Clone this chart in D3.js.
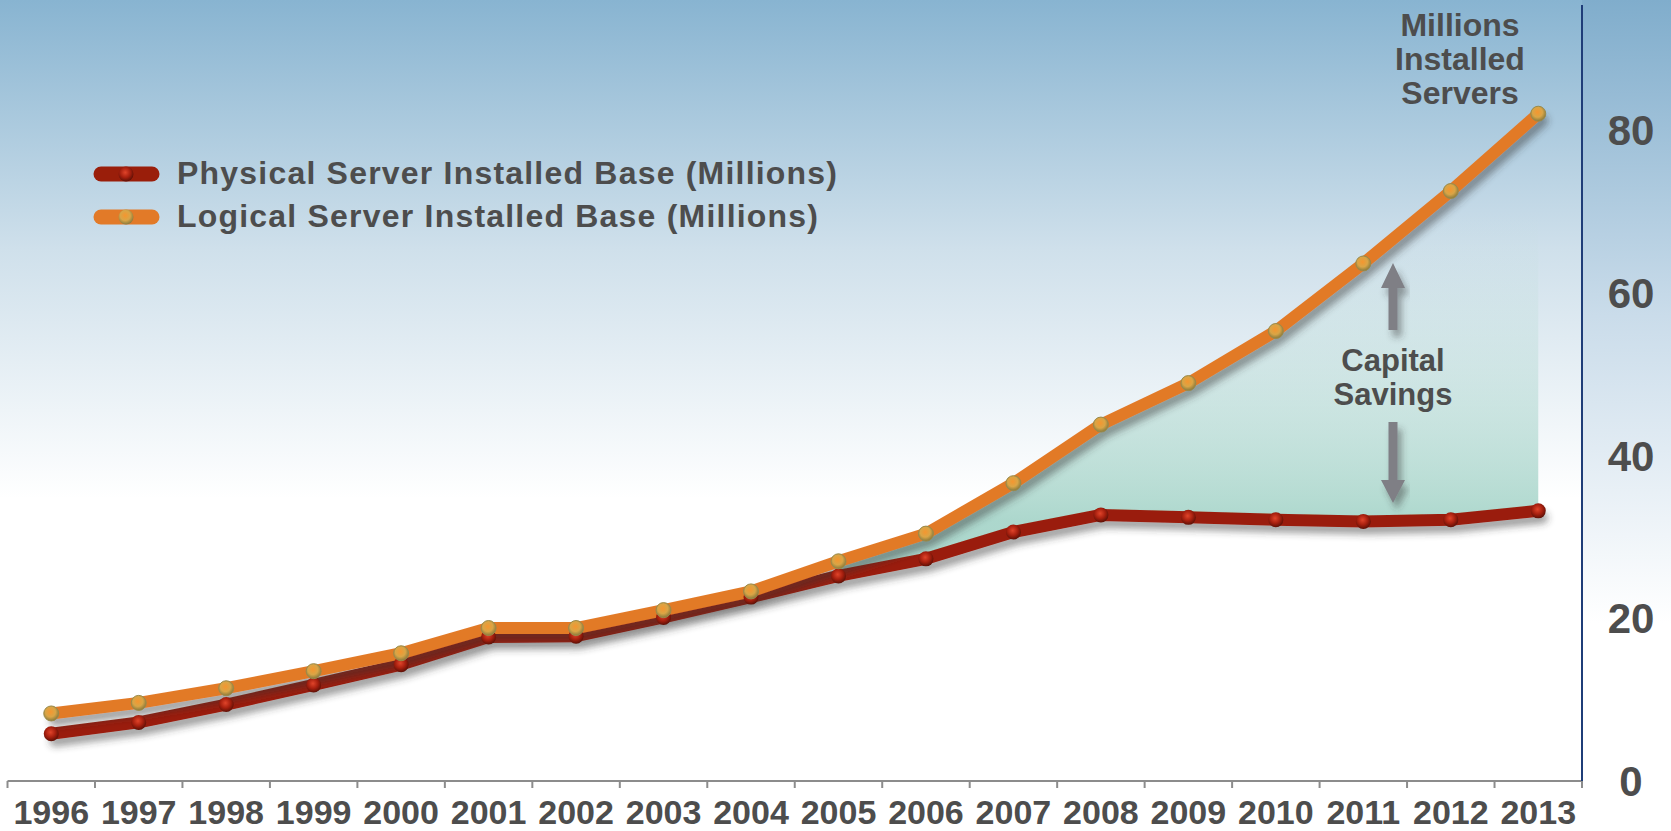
<!DOCTYPE html>
<html>
<head>
<meta charset="utf-8">
<script src="https://cdn.jsdelivr.net/npm/d3@7"></script>
<style>
  body { margin: 0; padding: 0; overflow: hidden; }
  svg { display: block; }
  text { font-family: "Liberation Sans", Arial, sans-serif; font-weight: bold; fill: #4d4d4d; }
</style>
</head>
<body>
<div id="chart"></div>
<script>
// chart data
var years = ["1996","1997","1998","1999","2000","2001","2002","2003","2004",
             "2005","2006","2007","2008","2009","2010","2011","2012","2013"];
var physical = [5.8, 7.2, 9.4, 11.8, 14.3, 17.7, 17.8, 20.1, 22.6,
                25.2, 27.3, 30.6, 32.7, 32.4, 32.1, 31.9, 32.1, 33.2];
var logical = [8.3, 9.6, 11.4, 13.5, 15.7, 18.8, 18.8, 21.0, 23.3,
               27.0, 30.4, 36.6, 43.8, 48.9, 55.3, 63.6, 72.5, 82.0];
var yTicks = [0, 20, 40, 60, 80];
var seriesNames = ["Physical Server Installed Base (Millions)", "Logical Server Installed Base (Millions)"];
var unitLines = ["Millions", "Installed", "Servers"];
var savingsLines = ["Capital", "Savings"];
var savingsFrom = "2005";

var svgWidth = 1671;
var svgHeight = 831;

var svg = d3.select("#chart")
  .append("svg")
  .attr("width", svgWidth)
  .attr("height", svgHeight);

var defs = svg.append("defs");

// background gradients
var bg = defs.append("linearGradient").attr("id", "bg")
  .attr("x1", 0).attr("y1", 0).attr("x2", 0).attr("y2", 1);
bg.append("stop").attr("offset", "0%").attr("stop-color", "#88b4d1");
bg.append("stop").attr("offset", "30%").attr("stop-color", "#cfe0eb");
bg.append("stop").attr("offset", "60%").attr("stop-color", "#ffffff");
bg.append("stop").attr("offset", "100%").attr("stop-color", "#ffffff");

var bgR = defs.append("linearGradient").attr("id", "bgR")
  .attr("x1", 0).attr("y1", 0).attr("x2", 0).attr("y2", 1);
bgR.append("stop").attr("offset", "0%").attr("stop-color", "#80adcc");
bgR.append("stop").attr("offset", "38%").attr("stop-color", "#cadcea");
bgR.append("stop").attr("offset", "75%").attr("stop-color", "#ffffff");
bgR.append("stop").attr("offset", "100%").attr("stop-color", "#ffffff");

// shadow
var sh = defs.append("filter").attr("id", "shadow")
  .attr("x", "-10%").attr("y", "-10%").attr("width", "130%").attr("height", "140%");
sh.append("feDropShadow").attr("dx", 4).attr("dy", 7).attr("stdDeviation", 3.5)
  .attr("flood-color", "#333").attr("flood-opacity", 0.45);

// marker gradients
function ball(id, c0, c1, c2) {
  var g = defs.append("radialGradient").attr("id", id)
    .attr("cx", "45%").attr("cy", "40%").attr("r", "60%");
  g.append("stop").attr("offset", "0%").attr("stop-color", c0);
  g.append("stop").attr("offset", "55%").attr("stop-color", c1);
  g.append("stop").attr("offset", "100%").attr("stop-color", c2);
}
ball("ballL", "#f5962f", "#d9a546", "#8a7a3c");
ball("ballP", "#e0442a", "#a8200f", "#5e1006");

var margin = { top: 5, right: 89, bottom: 50, left: 7.5 };
var x = d3.scaleBand()
  .domain(years)
  .range([margin.left, svgWidth - margin.right]);
var y = d3.scaleLinear()
  .domain([0, 80])
  .range([781, 130]);

var axisX = svgWidth - margin.right;
var axisY = svgHeight - margin.bottom;

svg.append("rect").attr("width", axisX).attr("height", svgHeight).attr("fill", "url(#bg)");
svg.append("rect").attr("x", axisX).attr("width", svgWidth - axisX).attr("height", svgHeight).attr("fill", "url(#bgR)");

var cx = d => x(d) + x.bandwidth() / 2;

// capital savings area
var startIdx = years.indexOf(savingsFrom);
var areaData = years.map((d, i) => ({ year: d, lo: physical[i], hi: logical[i] })).slice(startIdx);
var fillG = defs.append("linearGradient").attr("id", "savings")
  .attr("gradientUnits", "userSpaceOnUse")
  .attr("x1", 0).attr("y1", y(32)).attr("x2", 0).attr("y2", y(70));
fillG.append("stop").attr("offset", "0%").attr("stop-color", "#80c2b2").attr("stop-opacity", 0.65);
fillG.append("stop").attr("offset", "100%").attr("stop-color", "#c4e2da").attr("stop-opacity", 0);
svg.append("path")
  .datum(areaData)
  .attr("fill", "url(#savings)")
  .attr("d", d3.area().x(d => cx(d.year)).y0(d => y(d.lo)).y1(d => y(d.hi)));

// x axis
var gx = svg.append("g")
  .attr("transform", `translate(0, ${axisY})`)
  .call(d3.axisBottom(x).tickValues([]).tickSizeOuter(0));
gx.select(".domain").attr("stroke", "#8c8c8c").attr("stroke-width", 2)
  .attr("d", `M${margin.left},0H${axisX}`);
gx.selectAll(".sep")
  .data(d3.range(years.length + 1))
  .enter().append("line")
  .attr("x1", i => margin.left + i * x.bandwidth())
  .attr("x2", i => margin.left + i * x.bandwidth())
  .attr("y1", 0).attr("y2", 7)
  .attr("stroke", "#8c8c8c").attr("stroke-width", 2);
gx.selectAll(".yr")
  .data(years)
  .enter().append("text")
  .attr("x", d => cx(d))
  .attr("y", 43)
  .attr("text-anchor", "middle")
  .style("font-size", "34px")
  .text(d => d);

// y axis on the right
svg.append("line")
  .attr("x1", axisX).attr("x2", axisX)
  .attr("y1", 5).attr("y2", axisY)
  .attr("stroke", "#1f3d78").attr("stroke-width", 2);

svg.selectAll(".ytick")
  .data(yTicks)
  .enter().append("text")
  .attr("x", 1631)
  .attr("y", d => y(d) + 15)
  .attr("text-anchor", "middle")
  .style("font-size", "42px")
  .text(d => d);

// lines
var line = d3.line().x((d, i) => cx(years[i])).y(d => y(d));
svg.append("path").datum(physical)
  .attr("fill", "none").attr("stroke", "#9a1e0a").attr("stroke-width", 12)
  .attr("stroke-linejoin", "round").attr("stroke-linecap", "round")
  .attr("filter", "url(#shadow)")
  .attr("d", line);
svg.append("path").datum(logical)
  .attr("fill", "none").attr("stroke", "#e27a28").attr("stroke-width", 12)
  .attr("stroke-linejoin", "round").attr("stroke-linecap", "round")
  .attr("filter", "url(#shadow)")
  .attr("d", line);

svg.selectAll(".pP").data(physical).enter().append("circle")
  .attr("cx", (d, i) => cx(years[i])).attr("cy", d => y(d)).attr("r", 7.5)
  .attr("fill", "url(#ballP)");
svg.selectAll(".pL").data(logical).enter().append("circle")
  .attr("cx", (d, i) => cx(years[i])).attr("cy", d => y(d)).attr("r", 7.5)
  .attr("fill", "url(#ballL)").attr("stroke", "#9a8a4a").attr("stroke-width", 1);

// legend
var legend = svg.append("g");
var legColors = ["#9a1e0a", "#e27a28"];
var legBalls = ["url(#ballP)", "url(#ballL)"];
var legWidths = [660, 641];
seriesNames.forEach((name, i) => {
  var ly = 174 + i * 43;
  legend.append("line")
    .attr("x1", 101).attr("x2", 152).attr("y1", ly).attr("y2", ly)
    .attr("stroke", legColors[i]).attr("stroke-width", 15).attr("stroke-linecap", "round");
  legend.append("circle").attr("cx", 126).attr("cy", ly).attr("r", 7.5).attr("fill", legBalls[i]);
  legend.append("text")
    .attr("x", 177).attr("y", ly + 10)
    .attr("textLength", legWidths[i])
    .attr("lengthAdjust", "spacing")
    .style("font-size", "32px")
    .text(name);
});

// unit label
var unit = svg.append("text")
  .attr("text-anchor", "middle")
  .style("font-size", "32px");
unitLines.forEach((t, i) => {
  unit.append("tspan").attr("x", 1460).attr("y", 36 + i * 34).text(t);
});

// capital savings annotation
var ax = 1393;
var arr = svg.append("g").attr("fill", "#7f7f85").attr("filter", "url(#shadow)");
arr.append("path").attr("d", `M${ax},263 L${ax + 12},288 L${ax + 4.5},288 L${ax + 4.5},330 L${ax - 4.5},330 L${ax - 4.5},288 L${ax - 12},288 Z`);
arr.append("path").attr("d", `M${ax},503 L${ax + 12},480 L${ax + 4.5},480 L${ax + 4.5},422 L${ax - 4.5},422 L${ax - 4.5},480 L${ax - 12},480 Z`);
var cap = svg.append("text").attr("text-anchor", "middle").style("font-size", "31px");
savingsLines.forEach((t, i) => {
  cap.append("tspan").attr("x", ax).attr("y", 371 + i * 34).text(t);
});
</script>
</body>
</html>
